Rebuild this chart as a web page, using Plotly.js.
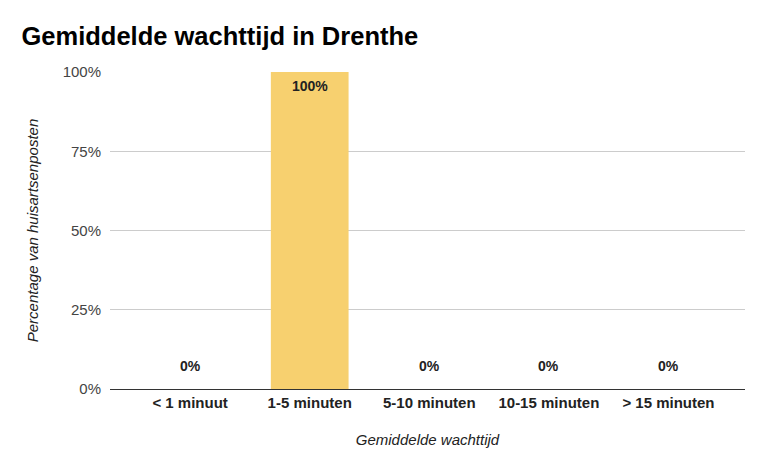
<!DOCTYPE html>
<html>
<head>
<meta charset="utf-8">
<script src="https://cdn.plot.ly/plotly-3.0.1.min.js"></script>
<style>html,body{margin:0;padding:0;background:#fff;}#chart{width:768px;height:475px;}</style>
</head>
<body>
<div id="chart"></div>
<script>
var categories = ["< 1 minuut", "1-5 minuten", "5-10 minuten", "10-15 minuten", "> 15 minuten"];
var values = [0, 1, 0, 0, 0];
var yTickValues = [0, 0.25, 0.5, 0.75, 1];
var yTickLabels = ["0%", "25%", "50%", "75%", "100%"];
var labels = values.map(function (v) { return Math.round(v * 100) + "%"; });

var FONT = "Liberation Sans, Arial, sans-serif";

var annotations = values.map(function (v, i) {
  return {
    x: categories[i], y: v, xref: "x", yref: "y",
    text: "<b>" + labels[i] + "</b>", showarrow: false,
    yshift: v > 0.5 ? -14 : 23,
    font: {family: FONT, size: 14, color: "#222222"}
  };
});

var trace = {
  type: "bar", x: categories, y: values, width: 0.65,
  marker: {color: "#f7d06f", line: {width: 0}},
  hoverinfo: "none"
};

var layout = {
  width: 768, height: 475,
  margin: {l: 110, r: 23, t: 72, b: 86},
  paper_bgcolor: "#ffffff", plot_bgcolor: "#ffffff",
  showlegend: false,
  title: {text: "<b>Gemiddelde wachttijd in Drenthe</b>", x: 0.028, xanchor: "left", y: 0.925, yanchor: "middle",
          font: {family: FONT, size: 25.5, color: "#000000"}},
  xaxis: {
    type: "category", range: [-0.67, 4.64],
    tickfont: {family: FONT, size: 15, color: "#222222"},
    tickprefix: "<b>", ticksuffix: "</b>",
    showgrid: false, showline: true, linecolor: "#333333", linewidth: 1,
    ticks: "", zeroline: false,
    title: {text: "<i>Gemiddelde wachttijd</i>", standoff: 24, font: {family: FONT, size: 15, color: "#222222"}}
  },
  yaxis: {
    range: [0, 1], tickvals: yTickValues, ticktext: yTickLabels,
    tickfont: {family: FONT, size: 15, color: "#444444"},
    ticklabelstandoff: 8,
    showgrid: true, gridcolor: "#cccccc", gridwidth: 1,
    zeroline: false, showline: false, ticks: "", ticklen: 0,
    title: {text: "<i>Percentage van huisartsenposten</i>", standoff: 20, font: {family: FONT, size: 15, color: "#222222"}}
  },
  annotations: annotations
};

Plotly.newPlot("chart", [trace], layout, {staticPlot: true, displayModeBar: false});
</script>
</body>
</html>
